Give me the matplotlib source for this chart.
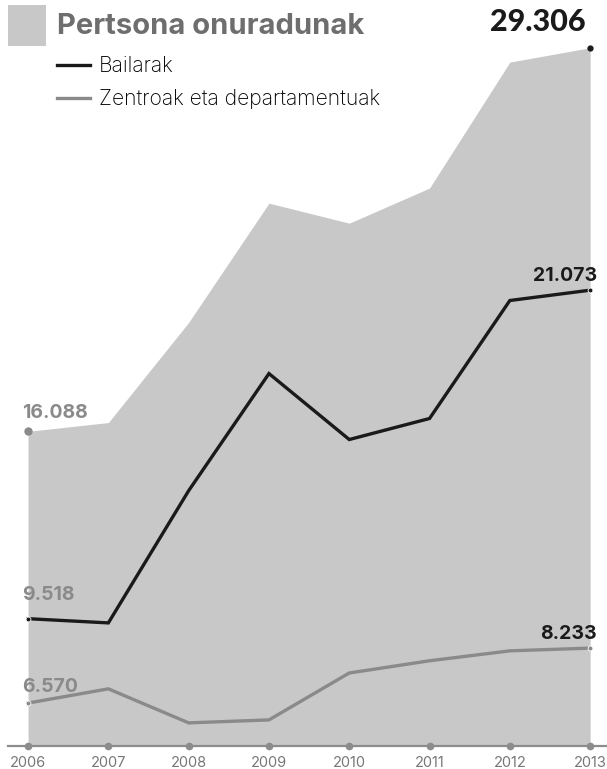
import matplotlib
matplotlib.use("Agg")
import matplotlib.pyplot as plt
from matplotlib.patches import Rectangle
import numpy as np

YEARS = [2006, 2007, 2008, 2009, 2010, 2011, 2012, 2013]
TOTAL = [16088, 16390, 19840, 23950, 23260, 24470, 28810, 29306]
BAILARAK = [9518, 9370, 14020, 18140, 15820, 16560, 20710, 21073]
ZENTROAK = [6570, 7000, 5970, 6060, 7480, 7850, 8150, 8233]

AREA = "#c8c8c8"
INK = "#1a1a1a"
GREY = "#8a8a8a"
AXIS = "#8c8c8c"
FONT = "Inter"

W, H = 607, 769
fig = plt.figure(figsize=(W / 100, H / 100), dpi=100)
ax = fig.add_axes([8 / W, (H - 746) / H, 599 / W, 746 / H])
ax2 = ax.twinx()
ax3 = ax.twinx()

# each series keeps its own vertical scale, as in the original graphic
ax.set_ylim(5245, 30950)
ax2.set_ylim(5040, 31280)
ax3.set_ylim(5270, 27850)
ax.set_xlim(2005.75, 2013.21)

ax.fill_between(YEARS, ax.get_ylim()[0], TOTAL, color=AREA, lw=0, zorder=1)
l1, = ax2.plot(YEARS, BAILARAK, color=INK, lw=2.4, solid_joinstyle="miter", label="Bailarak")
l2, = ax3.plot(YEARS, ZENTROAK, color=GREY, lw=2.4, solid_joinstyle="miter",
               label="Zentroak eta departamentuak")

# end points
ax.plot([YEARS[0]], [TOTAL[0]], "o", color=GREY, ms=5, zorder=5)
ax.plot([YEARS[-1]], [TOTAL[-1]], "o", color=INK, ms=3.5, zorder=5)
for a, vals, c in [(ax2, BAILARAK, INK), (ax3, ZENTROAK, GREY)]:
    a.plot([YEARS[0], YEARS[-1]], [vals[0], vals[-1]], "o", color=c, ms=3.5,
           mec="white", mew=0.6, zorder=5)

# value labels
def fmt(v):
    return f"{v:,}".replace(",", ".")

lab = dict(fontfamily=FONT, fontweight="bold", fontsize=14)
ax.annotate(fmt(TOTAL[0]), (YEARS[0], TOTAL[0]), xytext=(-4, 13),
            textcoords="offset points", ha="left", va="center", color=GREY, **lab)
ax2.annotate(fmt(BAILARAK[0]), (YEARS[0], BAILARAK[0]), xytext=(-4, 17.3),
             textcoords="offset points", ha="left", va="center", color=GREY, **lab)
ax3.annotate(fmt(ZENTROAK[0]), (YEARS[0], ZENTROAK[0]), xytext=(-4, 11.5),
             textcoords="offset points", ha="left", va="center", color=GREY, **lab)
ax2.annotate(fmt(BAILARAK[-1]), (YEARS[-1], BAILARAK[-1]), xytext=(5, 10),
             textcoords="offset points", ha="right", va="center", color=INK, **lab)
ax3.annotate(fmt(ZENTROAK[-1]), (YEARS[-1], ZENTROAK[-1]), xytext=(5, 10),
             textcoords="offset points", ha="right", va="center", color=INK, **lab)
ax.annotate(fmt(TOTAL[-1]), (YEARS[-1], TOTAL[-1]), xytext=(-3.6, 18.7),
            textcoords="offset points", ha="right", va="center", color=INK,
            fontfamily="Lato", fontweight="black", fontsize=22)

# axis styling
for a in (ax, ax2, ax3):
    for s in a.spines.values():
        s.set_visible(False)
    a.set_yticks([])
ax.spines["bottom"].set_visible(True)
ax.spines["bottom"].set_color(AXIS)
ax.spines["bottom"].set_linewidth(1.6)
ax.set_xticks(YEARS)
ax.set_xticklabels([str(y) for y in YEARS], fontfamily=FONT, fontsize=10.5, color="#777777")
ax.tick_params(axis="x", length=0, pad=7)
ax.plot(YEARS, [ax.get_ylim()[0]] * len(YEARS), "o", color=AXIS, ms=4.5,
        clip_on=False, zorder=6)

# title block
fig.add_artist(Rectangle((8 / W, 1 - 46 / H), 38 / W, 41 / H, transform=fig.transFigure,
                         color=AREA, lw=0))
fig.text(57 / W, 1 - 27 / H, "Pertsona onuradunak", fontfamily=FONT, fontweight="bold",
         fontsize=21, color="#6e6e6e", ha="left", va="center")
fig.legend(handles=[l1, l2], loc="upper left", bbox_to_anchor=(57 / W, 1 - 56 / H),
           frameon=False, borderaxespad=0, borderpad=0, handlelength=1.55,
           handletextpad=0.42, labelspacing=0.62,
           prop=dict(family=FONT, size=15.2, weight="light"))

fig.savefig("out.png", dpi=100, facecolor="white")
